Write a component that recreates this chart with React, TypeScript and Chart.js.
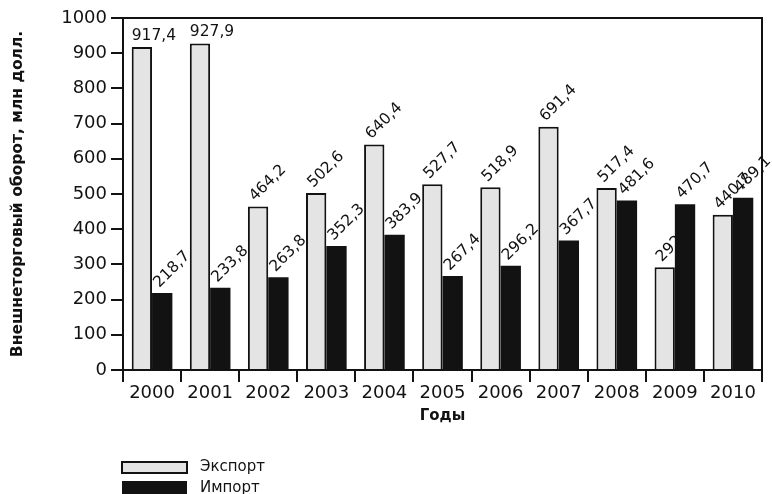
import React, { useEffect, useRef } from "react";
import { Chart, registerables } from "chart.js";

Chart.register(...registerables);

const years = ["2000", "2001", "2002", "2003", "2004", "2005", "2006", "2007", "2008", "2009", "2010"];
const exportValues = [917.4, 927.9, 464.2, 502.6, 640.4, 527.7, 518.9, 691.4, 517.4, 292, 440.7];
const importValues = [218.7, 233.8, 263.8, 352.3, 383.9, 267.4, 296.2, 367.7, 481.6, 470.7, 489.1];
const seriesNames = ["Экспорт", "Импорт"];
const yAxisTitle = "Внешнеторговый оборот, млн долл.";
const xAxisTitle = "Годы";

const INK = "#121212";
const LIGHT = "#e4e4e4";

const fmt = (v: number) => String(v).replace(".", ",");

const valueLabels = {
  id: "valueLabels",
  afterDatasetsDraw(chart: any) {
    const ctx = chart.ctx;
    const area = chart.chartArea;
    ctx.save();
    ctx.fillStyle = INK;
    ctx.font = "15.5px 'DejaVu Sans'";
    chart.data.datasets.forEach((ds: any, di: number) => {
      const meta = chart.getDatasetMeta(di);
      meta.data.forEach((el: any, i: number) => {
        const v = ds.data[i];
        const text = fmt(v);
        const w = el.width;
        if (el.y - area.top < 40) {
          ctx.save();
          ctx.textAlign = "left";
          ctx.textBaseline = "alphabetic";
          ctx.fillText(text, el.x - w / 2, el.y - 7);
          ctx.restore();
        } else {
          ctx.save();
          ctx.translate(el.x - 3, el.y - 5);
          ctx.rotate(-Math.PI / 4);
          ctx.textAlign = "left";
          ctx.textBaseline = "alphabetic";
          ctx.fillText(text, 0, 0);
          ctx.restore();
        }
      });
    });
    ctx.restore();
  },
};

const frameAndLegend = {
  id: "frameAndLegend",
  afterDraw(chart: any) {
    const ctx = chart.ctx;
    const a = chart.chartArea;
    ctx.save();
    ctx.strokeStyle = INK;
    ctx.lineWidth = 2;
    ctx.beginPath();
    ctx.moveTo(a.left, a.top);
    ctx.lineTo(a.right, a.top);
    ctx.lineTo(a.right, a.bottom);
    ctx.stroke();

    // legend
    const lx = 122;
    const rows = [
      { y: 462, h: 11 },
      { y: 481, h: 14 },
    ];
    ctx.font = "15px 'DejaVu Sans'";
    ctx.textBaseline = "middle";
    ctx.textAlign = "left";
    chart.data.datasets.forEach((ds: any, i: number) => {
      const r = rows[i];
      ctx.fillStyle = ds.backgroundColor;
      ctx.fillRect(lx, r.y, 65, r.h);
      if (ds.borderWidth) {
        ctx.lineWidth = 2;
        ctx.strokeStyle = INK;
        ctx.strokeRect(lx, r.y, 65, r.h);
      }
      ctx.fillStyle = INK;
      ctx.fillText(ds.label, 200, r.y + r.h / 2);
    });
    ctx.restore();
  },
};

export default function App() {
  const ref = useRef<HTMLCanvasElement | null>(null);
  useEffect(() => {
    if (!ref.current) return;
    const chart = new Chart(ref.current, {
      type: "bar",
      data: {
        labels: years,
        datasets: [
          {
            label: seriesNames[0],
            data: exportValues,
            backgroundColor: LIGHT,
            borderColor: INK,
            borderWidth: 2,
            categoryPercentage: 0.7,
            barPercentage: 1,
          },
          {
            label: seriesNames[1],
            data: importValues,
            backgroundColor: INK,
            borderWidth: 0,
            categoryPercentage: 0.7,
            barPercentage: 1,
          },
        ],
      },
      options: {
        animation: false,
        responsive: true,
        maintainAspectRatio: false,
        layout: { padding: { left: 0, top: 18, right: 10, bottom: 69 } },
        plugins: {
          legend: { display: false },
          tooltip: { enabled: false },
        },
        scales: {
          x: {
            offset: true,
            grid: {
              offset: true,
              drawOnChartArea: false,
              drawTicks: true,
              tickLength: 12,
              color: INK,
              lineWidth: 2,
            },
            border: { display: true, color: INK, width: 2, z: 1 },
            ticks: {
              color: INK,
              font: { family: "'DejaVu Sans'", size: 18 },
              padding: 1,
              maxRotation: 0,
            },
            title: {
              display: true,
              text: xAxisTitle,
              color: INK,
              font: { family: "'DejaVu Sans'", size: 15, weight: "bold" },
              padding: { top: 0, bottom: 0 },
            },
            afterFit(scale: any) {
              scale.height = 55;
            },
          },
          y: {
            min: 0,
            max: 1000,
            ticks: {
              stepSize: 100,
              color: INK,
              font: { family: "'DejaVu Sans'", size: 18 },
              padding: 4,
              callback: (v: any) => String(v),
            },
            grid: {
              drawOnChartArea: false,
              drawTicks: true,
              tickLength: 12,
              color: INK,
              lineWidth: 2,
            },
            border: { display: true, color: INK, width: 2, z: 1 },
            title: {
              display: true,
              text: yAxisTitle,
              color: INK,
              font: { family: "'DejaVu Sans'", size: 15.5, weight: "bold" },
              padding: { top: 9, bottom: 0 },
            },
            afterFit(scale: any) {
              scale.width = 123;
            },
          },
        },
      },
      plugins: [valueLabels, frameAndLegend],
    } as any);
    return () => chart.destroy();
  }, []);
  return (
    <div style={{ position: "fixed", left: 0, top: 0, width: 772, height: 494, background: "#fff" }}>
      <canvas ref={ref} />
    </div>
  );
}
